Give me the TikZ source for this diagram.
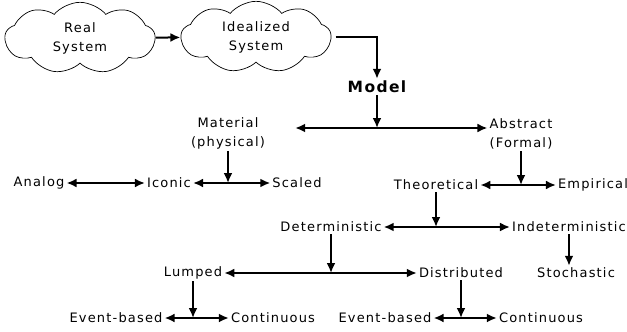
\documentclass[tikz,border=0pt]{standalone}
\usepackage{fontspec}
\setmainfont{DejaVu Sans}[LetterSpace=9]
\usetikzlibrary{arrows.meta,shapes.symbols}

\begin{document}
\begin{tikzpicture}[x=1pt,y=-1pt,
  lbl/.style={inner sep=2pt,font=\fontsize{13}{19}\selectfont,align=center},
  cloudy/.style={cloud,draw,cloud puffs=9,cloud puff arc=100,aspect=3,inner sep=0pt,line width=0.7pt},
  arr/.style={-{Latex[length=10pt,width=9pt]},line width=2pt},
  dbl/.style={{Latex[length=10pt,width=9pt]}-{Latex[length=10pt,width=9pt]},line width=2pt}]
  \useasboundingbox (0,0) rectangle (627,332);
  % clouds
  \node[cloudy,lbl,minimum width=150pt,minimum height=48pt] at(80,38)(real){Real\\System};
  \node[cloudy,lbl,minimum width=130pt,minimum height=56pt] at(256,37)(ideal){Idealized\\System};
  \node[lbl,font=\fontsize{15.5}{18}\selectfont\bfseries] at(377,87)(model){Model};
  % second level
  \node[lbl] at(228,133)(material){Material\\(physical)};
  \node[lbl] at(521,134)(abstract){Abstract\\(Formal)};
  % third level
  \node[lbl] at(39,183)(analog){Analog};
  \node[lbl] at(169,183)(iconic){Iconic};
  \node[lbl] at(297,183)(scaled){Scaled};
  \node[lbl] at(436,185)(theory){Theoretical};
  \node[lbl] at(593,185)(empiric){Empirical};
  % fourth level
  \node[lbl] at(331,227)(determ){Deterministic};
  \node[lbl] at(569,227)(indeterm){Indeterministic};
  % fifth level
  \node[lbl] at(193,273)(lumped){Lumped};
  \node[lbl] at(461,273)(distrib){Distributed};
  \node[lbl] at(576,273)(stoch){Stochastic};
  % bottom
  \node[lbl] at(116,318)(eventl){Event-based};
  \node[lbl] at(273,318)(contl){Continuous};
  \node[lbl] at(385,318)(eventr){Event-based};
  \node[lbl] at(541,318)(contr){Continuous};
  % connectors
  \draw[arr] (real) -- (ideal);
  \draw[arr,shorten <=4pt] (ideal.east) -| (model.north);
  \draw[dbl,shorten <=28pt] ([yshift=5pt]material.east) -- ([yshift=5pt]material.east -| abstract.west) coordinate[pos=0.5](mm);
  \draw[arr] (model.south) -- (model.south |- mm);
  \draw[dbl] (analog) -- (iconic);
  \draw[dbl] (iconic) -- (scaled) coordinate[pos=0.5](m1);
  \draw[arr] (material.south) -- (material.south |- m1);
  \draw[dbl] (theory) -- (empiric) coordinate[pos=0.5](m2);
  \draw[arr] (abstract.south) -- (abstract.south |- m2);
  \draw[dbl] (determ) -- (indeterm) coordinate[pos=0.5](m3);
  \draw[arr] (theory.south) -- (theory.south |- m3);
  \draw[dbl] (lumped) -- (distrib) coordinate[pos=0.5](m4);
  \draw[arr] (determ.south) -- (determ.south |- m4);
  \draw[arr] (indeterm.south) -- (indeterm.south |- stoch.north);
  \draw[dbl] (eventl) -- (contl) coordinate[pos=0.5](m5);
  \draw[arr] (lumped.south) -- (lumped.south |- m5);
  \draw[dbl] (eventr) -- (contr) coordinate[pos=0.5](m6);
  \draw[arr] (distrib.south) -- (distrib.south |- m6);
\end{tikzpicture}
\end{document}
